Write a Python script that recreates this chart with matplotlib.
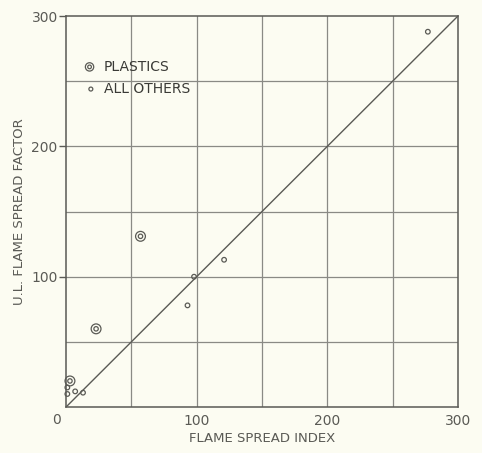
import numpy as np
import matplotlib.pyplot as plt

# dane
plastics_x = [57, 23, 3]
plastics_y = [131, 60, 20]
others_x = [98, 121, 93, 1, 1, 7, 13, 277]
others_y = [100, 113, 78, 15, 10, 12, 11, 288]
tick_vals = [100, 200, 300]

bg = '#fcfcf2'
ink = '#5a5a55'

fig = plt.figure(figsize=(4.82, 4.53), dpi=100, facecolor=bg)
ax = fig.add_axes([0.137, 0.1015, 0.813, 0.863], facecolor=bg)

ax.set_xlim(0, 300)
ax.set_ylim(0, 300)

# siatka co 50
for v in range(50, 300, 50):
    ax.axvline(v, color='#8a8a85', linewidth=0.9, zorder=1)
    ax.axhline(v, color='#8a8a85', linewidth=0.9, zorder=1)

# linia y = x
ax.plot([0, 300], [0, 300], color=ink, linewidth=1.0, zorder=2)

# punkty
ax.scatter(plastics_x, plastics_y, s=50, facecolors='none', edgecolors=ink, linewidths=0.9, zorder=3, clip_on=False)
ax.scatter(plastics_x, plastics_y, s=10, facecolors='none', edgecolors=ink, linewidths=0.9, zorder=3, clip_on=False)
ax.scatter(others_x, others_y, s=11, facecolors='none', edgecolors=ink, linewidths=0.9, zorder=3, clip_on=False)

for sp in ax.spines.values():
    sp.set_color(ink)
    sp.set_linewidth(1.1)

ax.set_xticks(tick_vals)
ax.set_yticks(tick_vals)
ax.set_xticklabels([str(v) for v in tick_vals])
ax.set_yticklabels([str(v) for v in tick_vals])
ax.tick_params(axis='x', length=0, pad=5, labelsize=10, colors=ink)
ax.tick_params(axis='y', length=5, width=1.0, pad=1, labelsize=10, colors=ink)

# wspolne zero w rogu
ax.text(-7, -10, '0', ha='center', va='center', fontsize=10, color=ink, clip_on=False)

ax.set_xlabel('FLAME SPREAD INDEX', fontsize=9.5, color=ink, labelpad=3)
ax.set_ylabel('U.L. FLAME SPREAD FACTOR', fontsize=9.5, color=ink, labelpad=4)

# legenda
ax.scatter([18], [261], s=36, facecolors='none', edgecolors=ink, linewidths=0.9, zorder=3)
ax.scatter([18], [261], s=7, facecolors='none', edgecolors=ink, linewidths=0.9, zorder=3)
ax.scatter([19], [244], s=8, facecolors='none', edgecolors=ink, linewidths=0.9, zorder=3)
ax.text(29, 261, 'PLASTICS', va='center', fontsize=10, color='#3a3a36')
ax.text(29, 244, 'ALL OTHERS', va='center', fontsize=10, color='#3a3a36')

fig.savefig('out.png', dpi=100, facecolor=bg)
